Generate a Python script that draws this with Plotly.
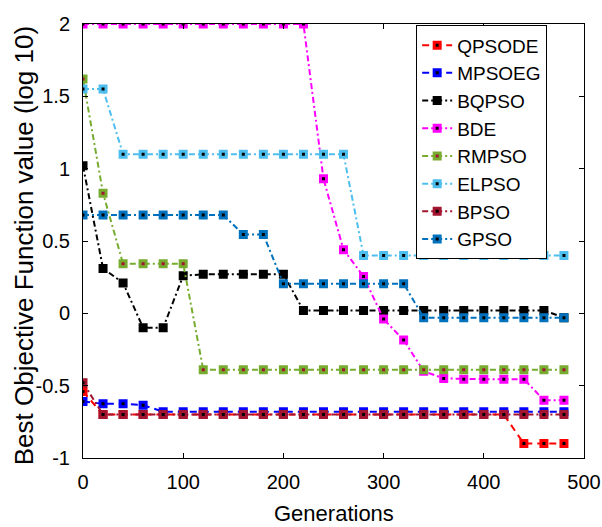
import plotly.graph_objects as go

generations = [0, 20, 40, 60, 80, 100, 120, 140, 160, 180, 200, 220, 240,
               260, 280, 300, 320, 340, 360, 380, 400, 420, 440, 460, 480]

qpsode = [-0.54] + [-0.70] * 21 + [-0.90, -0.90, -0.90]
mpsoeg = [-0.61, -0.625, -0.625, -0.635] + [-0.68] * 21
bqpso = [1.02, 0.31, 0.21, -0.10, -0.10, 0.26, 0.27, 0.27, 0.27, 0.27, 0.27] + [0.02] * 13 + [-0.03]
bde = [2.0] * 12 + [0.93, 0.44, 0.255, -0.04, -0.185, -0.40, -0.45, -0.455, -0.455, -0.455, -0.455, -0.60, -0.60]
rmpso = [1.62, 0.83, 0.343, 0.343, 0.343, 0.343] + [-0.39] * 19
elpso = [1.55, 1.55] + [1.10] * 12 + [0.40] * 11
bpso = [-0.48] + [-0.70] * 24
gpso = [0.68] * 8 + [0.545, 0.545] + [0.205] * 7 + [-0.03] * 8

series_names = ["QPSODE", "MPSOEG", "BQPSO", "BDE", "RMPSO", "ELPSO", "BPSO", "GPSO"]
series_values = [qpsode, mpsoeg, bqpso, bde, rmpso, elpso, bpso, gpso]
line_colors = ["#FF0000", "#0000FF", "#000000", "#FF00FF", "#77AC30", "#4DBEEE", "#A2142F", "#0072BD"]
center_colors = ["#000000", "#000000", "#000000", "#000000", "#A2142F", "#000000", "#000000", "#000000"]
dashes = ["7px,5px", "7px,5px", "6px,3px,2px,3px", "6px,3px,2px,3px",
          "6px,3px,2px,3px", "6px,3px,2px,3px", "6px,3px,2px,3px", "6px,3px,2px,3px"]

x_ticks = [0, 100, 200, 300, 400, 500]
y_ticks = [-1, -0.5, 0, 0.5, 1, 1.5, 2]
y_tick_labels = ["-1", "-0.5", "0", "0.5", "1", "1.5", "2"]

FONT = "Liberation Sans, Arial, Helvetica, sans-serif"

fig = go.Figure()
for name, vals, lc, cc, dash in zip(series_names, series_values, line_colors, center_colors, dashes):
    fig.add_trace(go.Scatter(
        x=generations, y=vals, name=name, mode="lines+markers",
        line=dict(color=lc, width=2, dash=dash),
        marker=dict(symbol="square", size=6, color=cc, line=dict(color=lc, width=3)),
    ))

axis_common = dict(
    showline=True, linecolor="black", linewidth=1, mirror="ticks",
    ticks="inside", ticklen=5, tickcolor="black", tickwidth=1,
    showgrid=False, zeroline=False,
    tickfont=dict(family=FONT, size=20, color="black"),
)

fig.update_xaxes(range=[0, 500], tickvals=x_ticks, ticklabelstandoff=6, **axis_common)
fig.update_yaxes(range=[-1, 2], tickvals=y_ticks, ticktext=y_tick_labels, ticklabelstandoff=8, **axis_common)

fig.update_layout(
    width=602, height=527,
    margin=dict(l=83, r=18, t=24, b=69, autoexpand=False),
    paper_bgcolor="white", plot_bgcolor="white",
    font=dict(family=FONT, color="black"),
    showlegend=True,
    legend=dict(
        x=0.665, y=0.997, xanchor="left", yanchor="top",
        bgcolor="white", bordercolor="black", borderwidth=1,
        font=dict(family=FONT, size=19, color="black"),
    ),
    annotations=[
        dict(text="Generations", xref="paper", yref="paper", x=0.5, y=-0.127,
             xanchor="center", yanchor="middle", showarrow=False,
             font=dict(family=FONT, size=22, color="black")),
        dict(text="Best Objective Function value (log 10)", xref="paper", yref="paper",
             x=-0.118, y=0.49, xanchor="center", yanchor="middle", textangle=-90,
             showarrow=False, font=dict(family=FONT, size=26, color="black")),
    ],
)

fig.write_html("out.html")
